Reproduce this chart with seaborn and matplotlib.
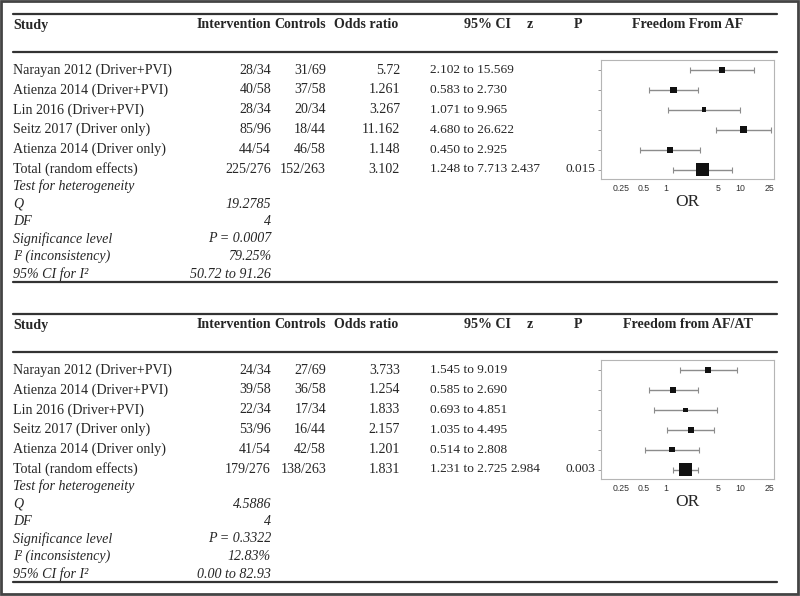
import numpy as np
import pandas as pd
import matplotlib
matplotlib.use("Agg")
import matplotlib.pyplot as plt
import seaborn as sns
from matplotlib.patches import Rectangle
from matplotlib.ticker import NullLocator

sns.set_theme(style="white")
plt.rcParams['font.family'] = ['Liberation Serif', 'DejaVu Serif']

# data
studies = ["Narayan 2012 (Driver+PVI)", "Atienza 2014 (Driver+PVI)", "Lin 2016 (Driver+PVI)",
           "Seitz 2017 (Driver only)", "Atienza 2014 (Driver only)", "Total (random effects)"]

# panel 1: freedom from AF
af_interv = ["28/34", "40/58", "28/34", "85/96", "44/54", "225/276"]
af_ctrl = ["31/69", "37/58", "20/34", "18/44", "46/58", "152/263"]
af_or = [5.72, 1.261, 3.267, 11.162, 1.148, 3.102]
af_lo = [2.102, 0.583, 1.071, 4.680, 0.450, 1.248]
af_hi = [15.569, 2.730, 9.965, 26.622, 2.925, 7.713]
af_weight = [6.0, 6.0, 4.7, 6.7, 5.7, 12.0]   # square side, px (study weight)
af_z, af_p = "2.437", "0.015"
af_het = ["19.2785", "4", "P = 0.0007", "79.25%", "50.72 to 91.26"]

# panel 2: freedom from AF/AT
afat_interv = ["24/34", "39/58", "22/34", "53/96", "41/54", "179/276"]
afat_ctrl = ["27/69", "36/58", "17/34", "16/44", "42/58", "138/263"]
afat_or = [3.733, 1.254, 1.833, 2.157, 1.201, 1.831]
afat_lo = [1.545, 0.585, 0.693, 1.035, 0.514, 1.231]
afat_hi = [9.019, 2.690, 4.851, 4.495, 2.808, 2.725]
afat_weight = [5.7, 5.7, 4.3, 6.0, 5.3, 12.0]
afat_z, afat_p = "2.984", "0.003"
afat_het = ["4.5886", "4", "P = 0.3322", "12.83%", "0.00 to 82.93"]

het_labels = ["Q", "DF", "Significance level", "I\u00b2 (inconsistency)", "95% CI for I\u00b2"]
ticks = [0.25, 0.5, 1, 5, 10, 25]
tick_labels = ["0.25", "0.5", "1", "5", "10", "25"]

W, H = 800, 596
fig = plt.figure(figsize=(W / 100, H / 100), dpi=100)
bg = fig.add_axes([0, 0, 1, 1])
bg.set_xlim(0, W)
bg.set_ylim(H, 0)
bg.axis("off")
bg.add_patch(Rectangle((1, 1), W - 3, H - 3, fill=False, lw=2, ec="#444444"))

FS = 10.1
FS_CI = 9.6
RULE = dict(color="#333333", lw=1.6)
X0, X1 = 13, 777
BOX_L, BOX_R = 601, 774
PX_DEC = 74.0  # pixels per decade on the OR axis
X_ONE = 666


def draw_panel(off, title, interv, ctrl, ors, lo, hi, weight, z, p, het):
    row0, dy = 70 + off, 19.9
    rows = [row0 + i * dy for i in range(6)]
    # rules and headers
    bg.plot([X0, X1], [14 + off, 14 + off], **RULE)
    bg.plot([X0, X1], [52 + off, 52 + off], **RULE)
    hy = 25 + off
    hb = dict(fontsize=FS, fontweight="bold", va="center")
    bg.text(X0, hy, "Study", ha="left", **hb)
    bg.text(271, hy, "Intervention", ha="right", **hb)
    bg.text(326, hy, "Controls", ha="right", **hb)
    bg.text(398, hy, "Odds ratio", ha="right", **hb)
    bg.text(464, hy, "95% CI", ha="left", **hb)
    bg.text(530, hy, "z", ha="center", **hb)
    bg.text(578, hy, "P", ha="center", **hb)
    bg.text((BOX_L + BOX_R) / 2, hy, title, ha="center", **hb)

    for i, y in enumerate(rows):
        bg.text(X0, y, studies[i], ha="left", va="center", fontsize=FS)
        bg.text(271, y, interv[i], ha="right", va="center", fontsize=FS)
        bg.text(326, y, ctrl[i], ha="right", va="center", fontsize=FS)
        bg.text(400, y, f"{ors[i]:g}", ha="right", va="center", fontsize=FS)
        bg.text(430, y, f"{lo[i]:.3f} to {hi[i]:.3f}", ha="left", va="center", fontsize=FS_CI)
    bg.text(540, rows[-1], z, ha="right", va="center", fontsize=FS_CI)
    bg.text(566, rows[-1], p, ha="left", va="center", fontsize=FS_CI)

    ty = rows[-1] + 17
    bg.text(X0, ty, "Test for heterogeneity", ha="left", va="center", fontsize=FS, style="italic")
    for j, (lab, val) in enumerate(zip(het_labels, het)):
        y = ty + (j + 1) * 17.5
        bg.text(X0, y, lab, ha="left", va="center", fontsize=FS, style="italic")
        bg.text(271, y, val, ha="right", va="center", fontsize=FS, style="italic")
    bg.plot([X0, X1], [ty + 95, ty + 95], **RULE)

    # forest plot
    top, bot = row0 - 10, rows[-1] + 9
    fax = fig.add_axes([BOX_L / W, 1 - bot / H, (BOX_R - BOX_L) / W, (bot - top) / H])
    fax.set_xscale("log")
    df = pd.DataFrame({"or": ors, "row": range(6), "side": weight})
    fax.errorbar(df["or"], df["row"],
                 xerr=[np.array(ors) - np.array(lo), np.array(hi) - np.array(ors)],
                 fmt="none", ecolor="#8c8c8c", elinewidth=1, capsize=2.2, capthick=0.8, zorder=2)
    sns.scatterplot(data=df, x="or", y="row", size="side",
                    sizes={s: (s * 0.75) ** 2 for s in weight},
                    marker="s", color="#111111", edgecolor="none", legend=False,
                    ax=fax, zorder=3)
    fax.set_xlim(10 ** ((BOX_L - X_ONE) / PX_DEC), 10 ** ((BOX_R - X_ONE) / PX_DEC))
    fax.set_ylim(5 + (bot - rows[-1]) / dy, -(row0 - top) / dy)
    fax.set_xticks(ticks)
    fax.set_xticklabels(tick_labels, fontsize=6.3, family="Liberation Sans", color="#333333")
    fax.xaxis.set_minor_locator(NullLocator())
    fax.set_yticks(range(6))
    fax.set_yticklabels([])
    fax.tick_params(axis="x", length=0, pad=4)
    fax.tick_params(axis="y", length=2.5, color="#999999", width=0.7, left=True)
    fax.set_xlabel("OR", fontsize=12.5, labelpad=1)
    fax.set_ylabel("")
    for s in fax.spines.values():
        s.set_color("#b5b5b5")
        s.set_linewidth(0.8)


draw_panel(0, "Freedom From AF", af_interv, af_ctrl, af_or, af_lo, af_hi, af_weight,
           af_z, af_p, af_het)
draw_panel(300, "Freedom from AF/AT", afat_interv, afat_ctrl, afat_or, afat_lo, afat_hi,
           afat_weight, afat_z, afat_p, afat_het)

fig.savefig("out.png", dpi=100)
